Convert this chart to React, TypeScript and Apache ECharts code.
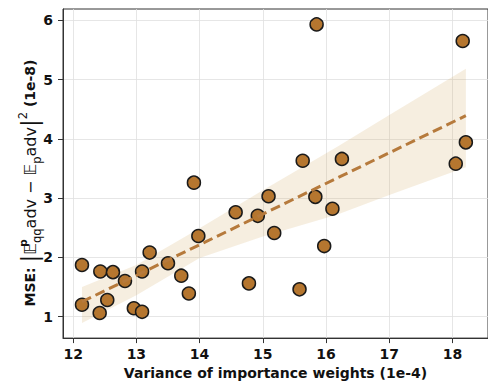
import React, { useEffect, useRef } from "react";
import * as echarts from "echarts";

const pointsX = [12.14, 12.14, 12.43, 12.42, 12.54, 12.63, 12.82, 12.96, 13.09, 13.09, 13.21, 13.5, 13.71, 13.83, 13.91, 13.98, 14.57, 14.78, 14.92, 15.09, 15.18, 15.58, 15.83, 16.1, 15.97, 18.05, 15.85, 18.16, 18.21, 15.63, 16.25];
const pointsY = [1.87, 1.2, 1.76, 1.06, 1.28, 1.75, 1.6, 1.14, 1.08, 1.76, 2.08, 1.9, 1.69, 1.39, 3.26, 2.36, 2.76, 1.56, 2.7, 3.03, 2.41, 1.46, 3.02, 2.82, 2.19, 3.58, 5.93, 5.65, 3.94, 3.63, 3.66];

const fitX = [12.14, 18.21];
const fitY = [1.25, 4.39];

const bandX = [12.14, 13, 14, 15, 16.17, 17, 18.21];
const bandUpper = [1.5, 1.87, 2.49, 3.13, 3.86, 4.4, 5.18];
const bandLower = [0.89, 1.36, 1.99, 2.35, 2.72, 3.05, 3.52];

const xTicks = [12, 13, 14, 15, 16, 17, 18];
const yTicks = [1, 2, 3, 4, 5, 6];

const FONT = "DejaVu Sans";

export default function App() {
  const ref = useRef<HTMLDivElement>(null);
  useEffect(() => {
    if (!ref.current) return;
    const chart = echarts.init(ref.current, undefined, { renderer: "svg" });
    const axisCommon = {
      axisLine: { show: true, lineStyle: { color: "#333", width: 1 } },
      axisTick: { show: true, length: 5, lineStyle: { color: "#333", width: 1 } },
      splitLine: { show: true, lineStyle: { color: "#e0e0e0", width: 0.8 } },
      axisLabel: { color: "#111", fontFamily: FONT, fontWeight: "bold", fontSize: 14 },
    };
    chart.setOption({
      animation: false,
      backgroundColor: "#fff",
      grid: { left: 63, top: 9, width: 430, height: 332, show: true, borderColor: "#333", borderWidth: 1, backgroundColor: "transparent" },
      xAxis: {
        type: "value",
        min: 11.84,
        max: 18.56,
        ...axisCommon,
        axisTick: { ...axisCommon.axisTick, customValues: xTicks },
        axisLabel: { ...axisCommon.axisLabel, customValues: xTicks, margin: 9 },
        name: "Variance of importance weights (1e-4)",
        nameLocation: "middle",
        nameGap: 21,
        nameTextStyle: { fontFamily: FONT, fontWeight: "bold", fontSize: 14, color: "#111" },
      },
      yAxis: {
        type: "value",
        min: 0.637,
        max: 6.19,
        ...axisCommon,
        axisTick: { ...axisCommon.axisTick, customValues: yTicks },
        axisLabel: { ...axisCommon.axisLabel, customValues: yTicks, margin: 10 },
      },
      graphic: [
        {
          type: "text",
          x: 30,
          y: 183,
          rotation: Math.PI / 2,
          style: {
            text: "{b|MSE: }{bar||}{n|𝔼}{sup0|p}{sub|qq}{n|adv − 𝔼}{sub|p}{n|adv}{bar||}{sup|2}{b| (1e-8)}",
            align: "center",
            verticalAlign: "middle",
            fill: "#111",
            rich: {
              b: { fontFamily: FONT, fontWeight: "bold", fontSize: 14, fill: "#111", lineHeight: 26, verticalAlign: "middle" },
              n: { fontFamily: FONT, fontSize: 16, fill: "#111", lineHeight: 26, verticalAlign: "middle" },
              bar: { fontFamily: FONT, fontSize: 23, fill: "#111", lineHeight: 26, verticalAlign: "middle" },
              sup: { fontFamily: FONT, fontSize: 11.5, fill: "#111", lineHeight: 26, verticalAlign: "top" },
              sup0: { fontFamily: FONT, fontSize: 10.5, fontWeight: "bold", fill: "#111", lineHeight: 26, verticalAlign: "top", width: 0 },
              sub: { fontFamily: FONT, fontSize: 11.5, fill: "#111", lineHeight: 26, verticalAlign: "bottom" },
            },
          },
          z: 100,
        },
      ],
      series: [
        {
          type: "custom",
          silent: true,
          z: 1,
          renderItem: (params: any, api: any) => {
            const pts: number[][] = [];
            for (let i = 0; i < bandX.length; i++) pts.push(api.coord([bandX[i], bandUpper[i]]));
            for (let i = bandX.length - 1; i >= 0; i--) pts.push(api.coord([bandX[i], bandLower[i]]));
            return {
              type: "polygon",
              shape: { points: pts },
              style: { fill: "rgba(210,170,100,0.2)", stroke: "none" },
            };
          },
          data: [[bandX[0], bandUpper[0]]],
        },
        {
          type: "line",
          z: 3,
          symbol: "none",
          data: fitX.map((x, i) => [x, fitY[i]]),
          lineStyle: { color: "#b67a3c", width: 3, type: [10, 5] },
        },
        {
          type: "scatter",
          z: 2,
          symbolSize: 13,
          data: pointsX.map((x, i) => [x, pointsY[i]]),
          itemStyle: { color: "#b5762f", borderColor: "#1a1a1a", borderWidth: 1.5, opacity: 1 },
        },
      ],
    });
    return () => chart.dispose();
  }, []);
  return <div ref={ref} style={{ width: 488, height: 385, position: "absolute", left: 0, top: 0 }} />;
}
